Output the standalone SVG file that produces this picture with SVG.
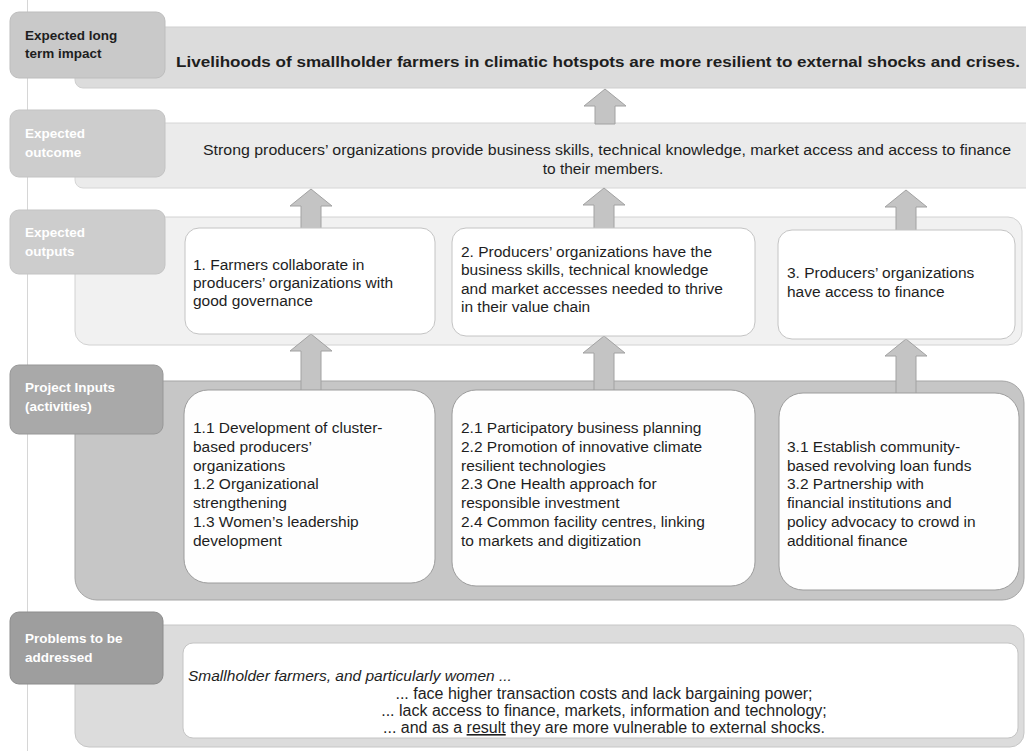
<svg xmlns="http://www.w3.org/2000/svg" width="1026" height="751" viewBox="0 0 1026 751">
<defs>
<style>
.t{font-family:"Liberation Sans",Arial,sans-serif;font-size:15.5px;fill:#1e1e1e}
.p{font-size:16px}
.lb{font-family:"Liberation Sans",Arial,sans-serif;font-size:13.5px;font-weight:bold;fill:#ffffff}
.lbd{fill:#1e1e1e}
.bold{font-weight:bold}
.it{font-style:italic}
.lab1{fill:#c9c9c9;stroke:#bdbdbd;stroke-width:1}
.lab2{fill:#cdcdcd;stroke:#c3c3c3;stroke-width:1}
.lab3{fill:#a9a9a9;stroke:#979797;stroke-width:1}
.lab4{fill:#9e9e9e;stroke:#8c8c8c;stroke-width:1}
.box{fill:#ffffff;stroke:#c4c4c4;stroke-width:1}
.ibox{fill:#fefefe;stroke:#9c9c9c;stroke-width:1}
.arr{fill:#c4c4c4;stroke:#a2a2a2;stroke-width:1}
</style>
</defs>
<rect x="0" y="0" width="1026" height="751" fill="#ffffff"/>
<line x1="27.5" y1="0" x2="27.5" y2="751" stroke="#d6d6d6" stroke-width="1"/>

<g id="row-impact">
<rect x="75" y="27" width="960" height="61" rx="8" fill="#dcdcdc" stroke="#cfcfcf"/>
<rect x="10" y="12" width="155" height="66" rx="9" class="lab1"/>
<text class="lb lbd" x="25" y="40">Expected long</text>
<text class="lb lbd" x="25" y="58">term impact</text>
<text class="t bold" x="176" y="67" textLength="844" lengthAdjust="spacingAndGlyphs">Livelihoods of smallholder farmers in climatic hotspots are more resilient to external shocks and crises.</text>
</g>

<g id="row-outcome">
<rect x="75" y="123" width="960" height="65" rx="8" fill="#ebebeb" stroke="#d6d6d6"/>
<rect x="10" y="110" width="155" height="67" rx="9" class="lab2"/>
<text class="lb" x="25" y="138">Expected</text>
<text class="lb" x="25" y="157">outcome</text>
<text class="t" x="203" y="155" textLength="808" lengthAdjust="spacingAndGlyphs">Strong producers’ organizations provide business skills, technical knowledge, market access and access to finance</text>
<text class="t" x="603" y="174" text-anchor="middle">to their members.</text>
</g>

<g id="row-outputs">
<rect x="75" y="217" width="947" height="128" rx="14" fill="#f1f1f1" stroke="#d2d2d2"/>
<rect x="10" y="210" width="155" height="64" rx="9" class="lab2"/>
<text class="lb" x="25" y="237">Expected</text>
<text class="lb" x="25" y="256">outputs</text>
</g>

<g id="row-inputs">
<rect x="75" y="381" width="949" height="219" rx="22" fill="#c6c6c6" stroke="#a5a5a5"/>
<rect x="10" y="365" width="153" height="69" rx="9" class="lab3"/>
<text class="lb" x="25" y="392">Project Inputs</text>
<text class="lb" x="25" y="411">(activities)</text>
</g>

<g id="row-problems">
<rect x="75" y="625" width="949" height="122" rx="14" fill="#dcdcdc" stroke="#c6c6c6"/>
<rect x="10" y="612" width="153" height="72" rx="9" class="lab4"/>
<text class="lb" x="25" y="643">Problems to be</text>
<text class="lb" x="25" y="662">addressed</text>
</g>

<g id="connectors">
<path class="arr" d="M605,89 L626,106 L615,106 L615,124 L595,124 L595,106 L584,106 Z"/>
<path class="arr" d="M311,189 L332,206 L321,206 L321,229 L301,229 L301,206 L290,206 Z"/>
<path class="arr" d="M604,188 L625,205 L614,205 L614,229 L594,229 L594,205 L583,205 Z"/>
<path class="arr" d="M906,190 L927,207 L916,207 L916,231 L896,231 L896,207 L885,207 Z"/>
<path class="arr" d="M311,334 L332,351 L321,351 L321,391 L301,391 L301,351 L290,351 Z"/>
<path class="arr" d="M604,336 L625,353 L614,353 L614,391 L594,391 L594,353 L583,353 Z"/>
<path class="arr" d="M906,339 L927,356 L916,356 L916,394 L896,394 L896,356 L885,356 Z"/>
</g>

<g id="output-1">
<rect x="185" y="228" width="250" height="106" rx="14" class="box"/>
<text class="t" x="193" y="270">1. Farmers collaborate in</text>
<text class="t" x="193" y="288">producers’ organizations with</text>
<text class="t" x="193" y="306">good governance</text>
</g>
<g id="output-2">
<rect x="452" y="228" width="303" height="108" rx="14" class="box"/>
<text class="t" x="461" y="257">2. Producers’ organizations have the</text>
<text class="t" x="461" y="275">business skills, technical knowledge</text>
<text class="t" x="461" y="294">and market accesses needed to thrive</text>
<text class="t" x="461" y="312">in their value chain</text>
</g>
<g id="output-3">
<rect x="778" y="230" width="237" height="109" rx="14" class="box"/>
<text class="t" x="787" y="278">3. Producers’ organizations</text>
<text class="t" x="787" y="297">have access to finance</text>
</g>

<g id="input-1">
<rect x="184" y="390" width="251" height="193" rx="24" class="ibox"/>
<text class="t" x="193" y="433">1.1 Development of cluster-</text>
<text class="t" x="193" y="452">based producers’</text>
<text class="t" x="193" y="471">organizations</text>
<text class="t" x="193" y="489">1.2 Organizational</text>
<text class="t" x="193" y="508">strengthening</text>
<text class="t" x="193" y="527">1.3 Women’s leadership</text>
<text class="t" x="193" y="546">development</text>
</g>
<g id="input-2">
<rect x="452" y="390" width="303" height="196" rx="24" class="ibox"/>
<text class="t" x="461" y="433">2.1 Participatory business planning</text>
<text class="t" x="461" y="452">2.2 Promotion of innovative climate</text>
<text class="t" x="461" y="471">resilient technologies</text>
<text class="t" x="461" y="489">2.3 One Health approach for</text>
<text class="t" x="461" y="508">responsible investment</text>
<text class="t" x="461" y="527">2.4 Common facility centres, linking</text>
<text class="t" x="461" y="546">to markets and digitization</text>
</g>
<g id="input-3">
<rect x="779" y="393" width="240" height="197" rx="24" class="ibox"/>
<text class="t" x="787" y="452">3.1 Establish community-</text>
<text class="t" x="787" y="471">based revolving loan funds</text>
<text class="t" x="787" y="489">3.2 Partnership with</text>
<text class="t" x="787" y="508">financial institutions and</text>
<text class="t" x="787" y="527">policy advocacy to crowd in</text>
<text class="t" x="787" y="546">additional finance</text>
</g>

<g id="problems-box">
<rect x="183" y="643" width="835" height="95" rx="10" class="box"/>
<text class="t it" x="188" y="681">Smallholder farmers, and particularly women ...</text>
<text class="t p" x="604" y="699" text-anchor="middle">... face higher transaction costs and lack bargaining power;</text>
<text class="t p" x="604" y="716" text-anchor="middle">... lack access to finance, markets, information and technology;</text>
<text class="t p" x="604" y="733" text-anchor="middle">... and as a <tspan text-decoration="underline">result</tspan> they are more vulnerable to external shocks.</text>
</g>
</svg>
